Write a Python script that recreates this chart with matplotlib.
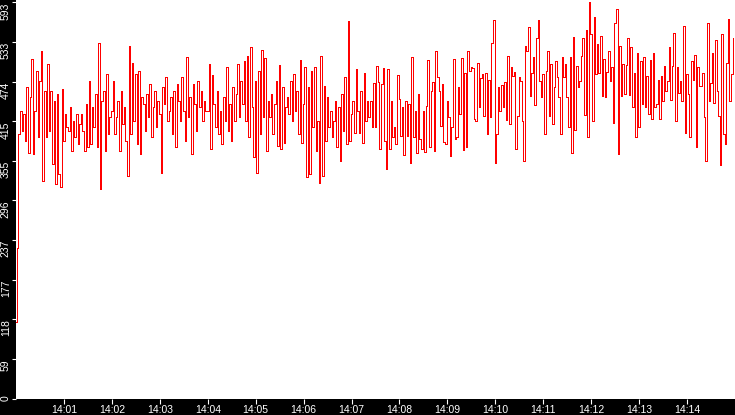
import numpy as np
import matplotlib
matplotlib.use("Agg")
import matplotlib.pyplot as plt
import matplotlib.dates as mdates

# readings, one every 2 seconds, grouped by minute (14:00 .. 14:14)
min00 = [114, 226, 396, 431, 401, 426, 386, 466, 368, 451, 508, 366, 431, 491, 391,
         476, 521, 326, 461, 391, 501, 401, 461, 351, 446, 321, 456, 336, 316, 463]
min01 = [386, 426, 406, 401, 436, 371, 416, 391, 426, 381, 411, 426, 401, 371, 441,
         376, 476, 381, 436, 406, 456, 376, 533, 313, 446, 461, 371, 486, 396, 421]
min02 = [431, 476, 396, 421, 446, 371, 461, 411, 436, 386, 333, 528, 396, 503, 416,
         486, 381, 491, 366, 451, 441, 401, 456, 421, 471, 391, 436, 461, 406, 446]
min03 = [426, 337, 466, 441, 482, 416, 431, 451, 396, 461, 376, 471, 446, 416, 481,
         431, 386, 511, 421, 451, 366, 471, 441, 401, 476, 436, 461, 416, 446, 431]
min04 = [431, 501, 373, 485, 441, 406, 461, 396, 431, 381, 451, 416, 497, 401, 441,
         386, 466, 416, 456, 501, 421, 476, 441, 506, 416, 513, 392, 526, 436, 362]
min05 = [476, 337, 491, 396, 522, 421, 510, 370, 446, 421, 456, 396, 441, 476, 378,
         500, 373, 466, 383, 436, 451, 426, 476, 416, 486, 431, 461, 396, 507, 383]
min06 = [441, 496, 331, 466, 336, 491, 406, 496, 371, 416, 322, 513, 333, 468, 386,
         451, 406, 431, 391, 416, 446, 376, 436, 355, 456, 401, 481, 381, 566, 386]
min07 = [426, 446, 398, 493, 431, 398, 461, 382, 488, 416, 446, 421, 446, 406, 473,
         406, 498, 474, 374, 471, 495, 386, 343, 493, 373, 446, 391, 406, 381, 485]
min08 = [448, 393, 436, 364, 446, 393, 441, 353, 511, 391, 431, 368, 456, 388, 374,
         431, 369, 438, 507, 376, 461, 474, 371, 520, 482, 461, 408, 471, 384, 381]
min09 = [446, 421, 363, 406, 508, 388, 391, 466, 426, 510, 372, 488, 376, 520, 491,
         496, 495, 418, 416, 503, 436, 480, 486, 423, 487, 396, 477, 421, 533, 567]
min10 = [352, 396, 466, 431, 470, 436, 474, 417, 513, 411, 496, 483, 489, 373, 423,
         482, 476, 416, 355, 528, 520, 557, 453, 487, 511, 440, 540, 567, 476, 451]
min11 = [486, 396, 491, 521, 423, 501, 411, 466, 506, 481, 451, 396, 512, 481, 501,
         451, 406, 511, 367, 541, 402, 498, 466, 476, 513, 540, 424, 552, 391, 593]
min12 = [546, 416, 572, 486, 531, 488, 543, 453, 508, 451, 489, 520, 475, 497, 413,
         563, 584, 366, 528, 453, 501, 456, 499, 540, 454, 526, 437, 487, 392, 517]
min13 = [407, 506, 441, 511, 436, 483, 426, 507, 418, 518, 436, 441, 477, 418, 483,
         446, 498, 461, 475, 526, 447, 498, 548, 416, 496, 458, 476, 446, 558, 398]
min14 = [486, 456, 391, 506, 477, 514, 376, 496, 468, 468, 488, 421, 356, 563, 446,
         473, 518, 443, 537, 461, 423, 350, 546, 396, 381, 503, 568, 446, 486, 540]

values = np.array(min00 + min01 + min02 + min03 + min04 + min05 + min06 + min07
                  + min08 + min09 + min10 + min11 + min12 + min13 + min14, dtype=float)

t0 = np.datetime64("2024-01-01T14:00:00")
times = t0 + np.arange(len(values)) * np.timedelta64(2, "s")
t_end = t0 + np.timedelta64(15, "m")

fig = plt.figure(figsize=(7.35, 4.15), dpi=100, facecolor="black")
ax = fig.add_axes([16 / 735, 16.5 / 415, 719 / 735, 398.5 / 415])
ax.set_facecolor("white")

# pixel-style trace: vertical jumps with short flats, no smoothing
ax.plot(times, values, color="red", lw=0.7, antialiased=False, drawstyle="steps-mid")

ymax = values.max()
ax.set_ylim(0, ymax * 398.5 / 396)
ax.set_xlim(t0, t_end)

for s in ax.spines.values():
    s.set_visible(False)

# y ticks: ten equal steps up to the max, labels truncated
yt = np.linspace(0, ymax, 11)
ax.set_yticks(yt)
ax.set_yticklabels([str(int(v)) for v in yt], rotation=90, va="top", ha="right",
                   family="Liberation Sans", fontsize=7.5, color="white")
ax.get_yticklabels()[0].set_va("center")

ax.xaxis.set_major_locator(mdates.MinuteLocator(byminute=range(1, 15)))
ax.xaxis.set_major_formatter(mdates.DateFormatter("%H:%M"))
for lab in ax.get_xticklabels():
    lab.set_family("Liberation Sans")
    lab.set_fontsize(7.5)
    lab.set_color("white")

ax.tick_params(axis="y", colors="white", length=3, width=0.8, pad=0.8)
ax.tick_params(axis="x", colors="white", length=3.5, width=0.8, pad=1.2)

fig.savefig("out.png", dpi=100, facecolor="black")
